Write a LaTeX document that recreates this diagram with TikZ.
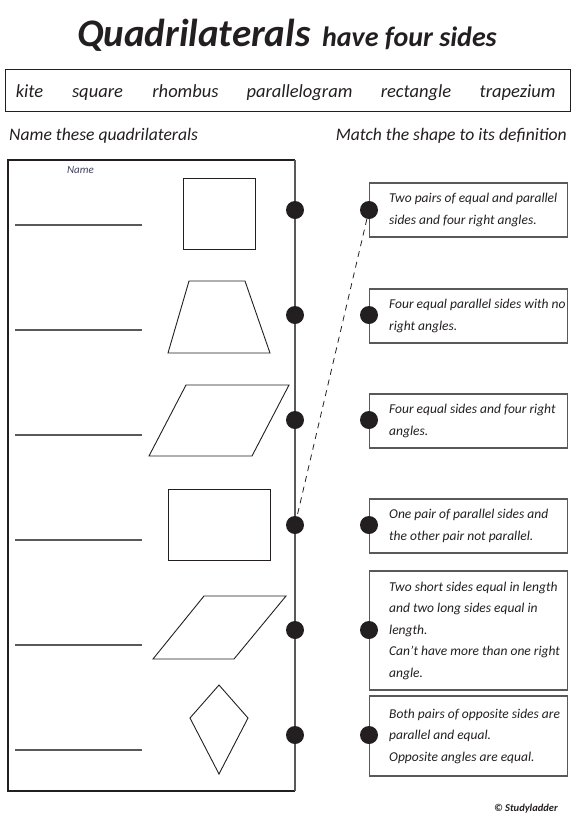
\documentclass[tikz,border=0pt]{standalone}
\usepackage{fontspec}
\setmainfont{Carlito}
\usepackage{tikz}
\usetikzlibrary{calc}
\definecolor{wsink}{RGB}{35,31,32}
\definecolor{wsgrey}{RGB}{88,89,91}
\definecolor{wsname}{RGB}{62,64,92}

\tikzset{
  holedot/.style={circle, fill=wsink, inner sep=0pt, minimum size=18pt},
  defbox/.style={draw=wsgrey, line width=1.2pt, minimum width=198pt, inner sep=0pt, anchor=west},
  deftext/.style={align=left, anchor=west, inner sep=0pt, text=wsink,
    font=\fontsize{13.5}{21.5}\selectfont\itshape},
  bankword/.style={anchor=base, inner sep=0pt, text=wsink,
    font=\fontsize{18.5}{20}\selectfont\itshape},
  quadshape/.style={draw=wsink, line width=0.9pt, line join=miter},
  answerline/.style={draw=wsgrey, line width=1.5pt}
}

\begin{document}
\begin{tikzpicture}[x=1pt, y=-1pt]
\useasboundingbox (0,0) rectangle (577,823);

% Title
\node[anchor=base west, inner sep=0pt, text=wsink, font=\fontsize{39}{39}\selectfont\bfseries\itshape] (title) at (77,46) {Quadrilaterals};
\node[anchor=base west, inner sep=0pt, text=wsink, font=\fontsize{28}{28}\selectfont\bfseries\itshape] (subtitle) at (322,46) {have four sides};

% Word bank
\draw[wsink, line width=1pt] (5,69) rectangle (570,111);
\foreach \w/\x in {kite/29.5, square/97.5, rhombus/185.5, parallelogram/299.5, rectangle/416, trapezium/517.5} {
    \node[bankword] (bank-\w) at (\x,97) {\w};
}

% Headings
\node[bankword, anchor=base west, font=\fontsize{17.6}{20}\selectfont\itshape] (lefthead) at (9,140) {Name these quadrilaterals};
\node[bankword, anchor=base east, font=\fontsize{17.6}{20}\selectfont\itshape] (righthead) at (567,140) {Match the shape to its definition};

% Left panel
\draw[wsink, line width=1.2pt] (295,791) -- (8,791) -- (8,160) -- (295,160);
\draw[wsgrey, line width=1.2pt] (295,160) -- (295,791);
\node[anchor=base, inner sep=0pt, text=wsname, font=\fontsize{11}{12}\selectfont\itshape] (namehead) at (80.5,173) {Name};

% Shapes
\draw[quadshape] (183,178) rectangle (255,249);
\draw[quadshape] (189,281) -- (245,281) -- (270,353) -- (168,353) -- cycle;
\draw[quadshape] (186,385) -- (289,385) -- (252,456) -- (149,456) -- cycle;
\draw[quadshape] (168,489) rectangle (270,560);
\draw[quadshape] (204,596) -- (286,596) -- (234,659) -- (153,659) -- cycle;
\draw[quadshape] (219,685) -- (248,718) -- (219,774) -- (190,718) -- cycle;

% Definitions
\node[defbox, minimum height=54pt] (def1) at (369,210) {};
\node[deftext] (txt1) at ([xshift=20pt]def1.west) {Two pairs of equal and parallel\\sides and four right angles.};
\node[defbox, minimum height=54pt] (def2) at (369,316) {};
\node[deftext] (txt2) at ([xshift=20pt]def2.west) {Four equal parallel sides with no\\right angles.};
\node[defbox, minimum height=54pt] (def3) at (369,421) {};
\node[deftext] (txt3) at ([xshift=20pt]def3.west) {Four equal sides and four right\\angles.};
\node[defbox, minimum height=54pt] (def4) at (369,526) {};
\node[deftext] (txt4) at ([xshift=20pt]def4.west) {One pair of parallel sides and\\the other pair not parallel.};
\node[defbox, minimum height=119pt] (def5) at (369,630.5) {};
\node[deftext] (txt5) at ([xshift=20pt]def5.west) {Two short sides equal in length\\and two long sides equal in\\length.\\Can't have more than one right\\angle.};
\node[defbox, minimum height=80pt] (def6) at (369,736) {};
\node[deftext] (txt6) at ([xshift=20pt]def6.west) {Both pairs of opposite sides are\\parallel and equal.\\Opposite angles are equal.};

% Dots and answer lines
\foreach \i in {1,...,6} {
    \pgfmathsetmacro{\y}{210+105*(\i-1)}
    \draw[answerline] (15,\y+15) -- (142,\y+15);
    \node[holedot] (l\i) at (295,\y) {};
    \node[holedot] (r\i) at (369,\y) {};
}

% Example match
\draw[wsink, line width=0.8pt, dash pattern=on 6pt off 5pt] (r1) -- (l4);

\node[anchor=base east, inner sep=0pt, text=wsink, font=\fontsize{10.5}{12}\selectfont\bfseries\itshape] (credit) at (558,811) {© Studyladder};
\end{tikzpicture}
\end{document}
